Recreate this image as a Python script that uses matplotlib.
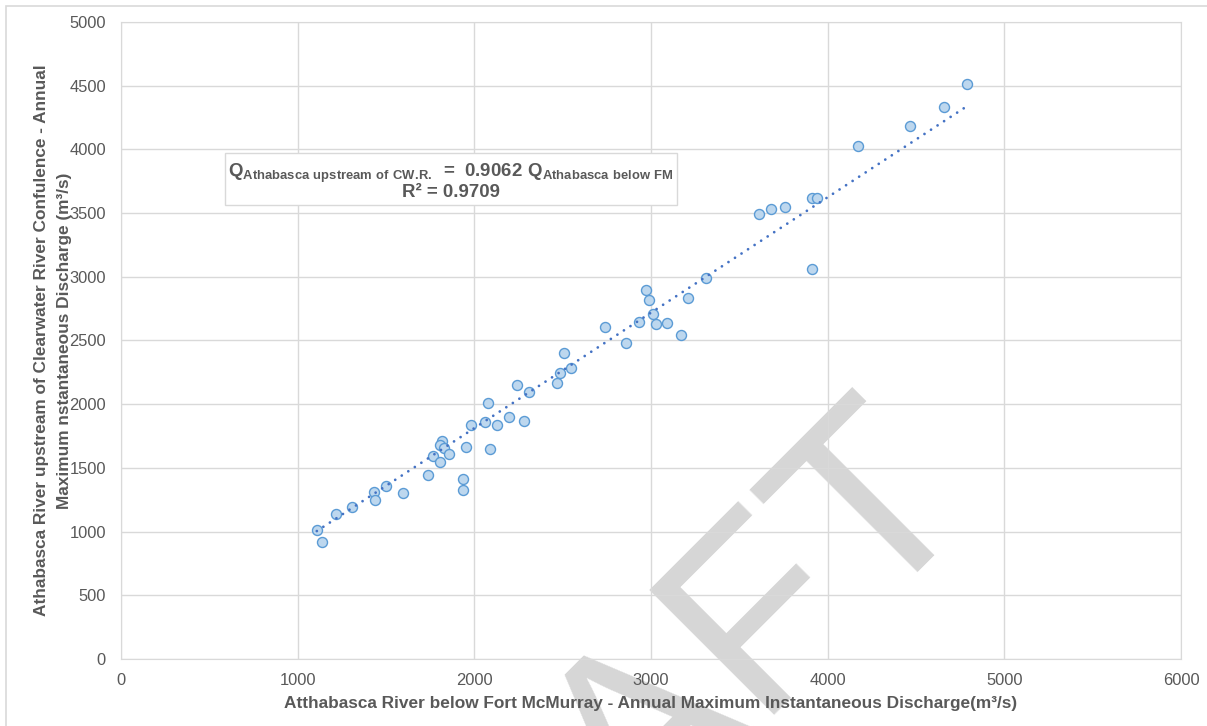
import numpy as np
import matplotlib.pyplot as plt
from matplotlib.patches import Rectangle

plt.rcParams['font.family'] = ['Liberation Sans', 'DejaVu Sans']
plt.rcParams['mathtext.fontset'] = 'custom'
plt.rcParams['mathtext.rm'] = 'Liberation Sans'
plt.rcParams['mathtext.bf'] = 'Liberation Sans:bold'

# Annual maximum instantaneous discharge (m3/s)
below_fm = [1108, 1139, 1217, 1309, 1430, 1440, 1498, 1598, 1739, 1768,
            1807, 1819, 1807, 1830, 1858, 1938, 1938, 1951, 1979, 2060,
            2079, 2088, 2128, 2198, 2279, 2239, 2307, 2467, 2507, 2548,
            2484, 2739, 2860, 2930, 2969, 2988, 3009, 3029, 3088, 3169,
            3209, 3309, 3909, 3609, 3679, 3760, 3909, 3939, 4169, 4467,
            4660, 4788]
upstream_cwr = [1013, 918, 1138, 1191, 1313, 1250, 1358, 1300, 1444, 1596,
                1544, 1711, 1680, 1654, 1611, 1410, 1329, 1662, 1839, 1858,
                2007, 1646, 1837, 1902, 1866, 2153, 2096, 2166, 2404, 2287,
                2243, 2608, 2478, 2643, 2896, 2818, 2708, 2630, 2635, 2543,
                2836, 2993, 3061, 3493, 3535, 3551, 3621, 3619, 4027, 4184,
                4330, 4511]
slope = 0.9062
r2 = 0.9709

grey = '#595959'

fig = plt.figure(figsize=(12.07, 7.26), dpi=100)
ax = fig.add_axes([0.1003, 0.0923, 0.8782, 0.8774])
ax.set_facecolor('none')

# watermark behind everything
fig.text(0.558, -0.095, 'DRAFT', fontsize=185, color='#d6d6d6',
         rotation=45, rotation_mode='anchor', ha='center', va='baseline',
         zorder=-1)

# chart border
fig.patches.append(Rectangle((6 / 1207, -0.1), 1.2, 1 - 6 / 726 + 0.1,
                             transform=fig.transFigure, fill=False,
                             edgecolor='#d9d9d9', linewidth=1.2, zorder=-2))

x = np.array(below_fm)
ax.scatter(x, upstream_cwr, s=52, facecolor='#bdd7ee', edgecolor='#5b9bd5',
           linewidth=1.0, zorder=3)

xt = np.array([x.min(), x.max()])
ax.plot(xt, slope * xt, color='#4472c4', linestyle=(0, (0.01, 2.8)),
        linewidth=2.0, dash_capstyle='round', zorder=4)

ax.set_xlim(0, 6000)
ax.set_ylim(0, 5000)
ax.set_xticks(np.arange(0, 6001, 1000))
ax.set_yticks(np.arange(0, 5001, 500))
ax.grid(True, color='#d9d9d9', linewidth=1.0)
ax.set_axisbelow(True)
for s in ax.spines.values():
    s.set_color('#d9d9d9')
ax.tick_params(length=0, labelsize=11.9, colors=grey)
ax.tick_params(axis='x', pad=10)
ax.tick_params(axis='y', pad=11)

ax.set_xlabel('Atthabasca River below Fort McMurray - Annual Maximum Instantaneous Discharge(m³/s)',
              fontsize=12.4, fontweight='bold', color=grey, labelpad=6)
ax.set_ylabel('Athabasca River upstream of Clearwater River Confulence - Annual\n'
              'Maximum nstantaneous Discharge (m³/s)',
              fontsize=12.4, fontweight='bold', color=grey, labelpad=-2,
              linespacing=1.65)

eq = (r'$\mathbf{Q}_{\mathbf{Athabasca\ upstream\ of\ CW.\!R.}}'
      r'\mathbf{\ {=}\ 0.9062\ Q}_{\mathbf{Athabasca\ below\ FM}}$'
      '\n' + 'R² = {:.4f}'.format(r2))
ax.text(451 / 1207, 1 - 181 / 726, eq, transform=fig.transFigure,
        ha='center', va='center', ma='center', fontsize=13.4, color=grey,
        fontweight='bold', linespacing=0.95,
        bbox=dict(boxstyle='square,pad=0.2', facecolor='white',
                  edgecolor='#d9d9d9', linewidth=1.0))

fig.savefig('out.png', dpi=100)
